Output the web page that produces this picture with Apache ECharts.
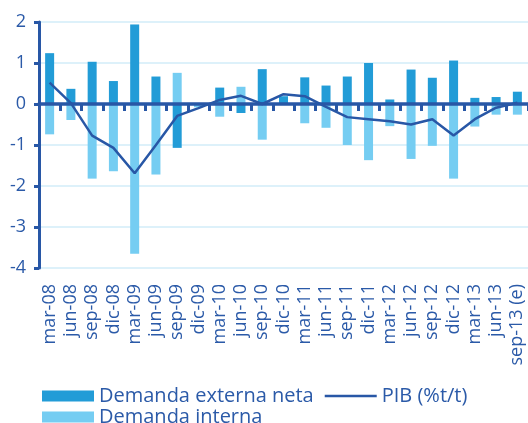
<!DOCTYPE html>
<html>
<head>
<meta charset="utf-8">
<script src="https://cdn.jsdelivr.net/npm/echarts@6/dist/echarts.min.js"></script>
<style>
  html, body { margin: 0; padding: 0; background: #fff; }
  #chart { width: 528px; height: 423px; }
</style>
</head>
<body>
<div id="chart"></div>
<script>
var categories = ['mar-08', 'jun-08', 'sep-08', 'dic-08', 'mar-09', 'jun-09', 'sep-09', 'dic-09',
    'mar-10', 'jun-10', 'sep-10', 'dic-10', 'mar-11', 'jun-11', 'sep-11', 'dic-11',
    'mar-12', 'jun-12', 'sep-12', 'dic-12', 'mar-13', 'jun-13', 'sep-13 (e)'];
var externa = [1.24, 0.37, 1.03, 0.56, 1.94, 0.67, -1.07, 0.02, 0.40, -0.22, 0.85, 0.19,
    0.65, 0.45, 0.67, 1.0, 0.11, 0.84, 0.64, 1.06, 0.15, 0.17, 0.30];
var interna = [-0.74, -0.39, -1.82, -1.64, -3.65, -1.72, 0.76, -0.08, -0.31, 0.42, -0.87, 0,
    -0.47, -0.58, -1.0, -1.37, -0.54, -1.34, -1.02, -1.82, -0.55, -0.26, -0.26];
var pib = [0.52, 0.02, -0.77, -1.07, -1.69, -1.0, -0.29, -0.1, 0.10, 0.20, 0.0, 0.24,
    0.19, -0.07, -0.32, -0.37, -0.42, -0.50, -0.37, -0.77, -0.37, -0.09, 0.03];

var textColor = '#2b5aa8';
var axisColor = '#2857a6';
var font = 'Open Sans';
// thin line icon for the PIB legend entry (empty corners keep the 52x11 box)
var lineIcon = 'path://M0,0L0,0M0,4.3L52,4.3L52,6.7L0,6.7ZM52,11L52,11';

var myChart = echarts.init(document.getElementById('chart'));

var option = {
    animation: false,
    textStyle: { fontFamily: font },
    grid: { left: 39, right: 0, top: 22, bottom: 155 },
    legend: [
        {
            left: 42, top: 386, padding: 0,
            itemWidth: 52, itemHeight: 11, itemGap: 11,
            textStyle: { color: textColor, fontSize: 20, fontFamily: font },
            data: [
                { name: 'Demanda externa neta', icon: 'rect' },
                { name: 'PIB (%t/t)', icon: lineIcon }
            ]
        },
        {
            left: 42, top: 407, padding: 0,
            itemWidth: 52, itemHeight: 11,
            textStyle: { color: textColor, fontSize: 20, fontFamily: font },
            data: [{ name: 'Demanda interna', icon: 'rect' }]
        }
    ],
    xAxis: [
        {
            type: 'category',
            data: categories,
            position: 'bottom',
            axisLine: { show: false, onZero: false },
            axisTick: { show: false },
            axisLabel: {
                interval: 0, rotate: 90, margin: 16,
                color: textColor, fontSize: 18, fontFamily: font
            }
        },
        {
            type: 'category',
            data: categories,
            position: 'top',
            z: 5,
            axisLine: { onZero: true, lineStyle: { color: axisColor, width: 3.5 } },
            axisTick: { show: true, interval: 0, inside: true, length: 7, lineStyle: { color: axisColor, width: 3 } },
            axisLabel: { show: false, interval: 0 },
            splitLine: { show: false }
        }
    ],
    yAxis: {
        type: 'value',
        min: -4, max: 2, interval: 1,
        axisLine: { show: true, lineStyle: { color: axisColor, width: 3 } },
        axisTick: { show: true, length: 5, lineStyle: { color: axisColor, width: 3 } },
        axisLabel: { color: textColor, fontSize: 18, fontFamily: font, margin: 13 },
        splitLine: { lineStyle: { color: '#d2ecf8', width: 1.5 } }
    },
    series: [
        {
            name: 'Demanda externa neta',
            type: 'bar',
            stack: 'total',
            barWidth: 9,
            itemStyle: { color: '#229cd7' },
            data: externa
        },
        {
            name: 'Demanda interna',
            type: 'bar',
            stack: 'total',
            barWidth: 9,
            itemStyle: { color: '#75cdf2' },
            data: interna
        },
        {
            name: 'PIB (%t/t)',
            type: 'line',
            z: 10,
            symbol: 'none',
            lineStyle: { color: axisColor, width: 2.5 },
            itemStyle: { color: axisColor },
            data: pib
        }
    ]
};
myChart.setOption(option);
</script>
</body>
</html>
